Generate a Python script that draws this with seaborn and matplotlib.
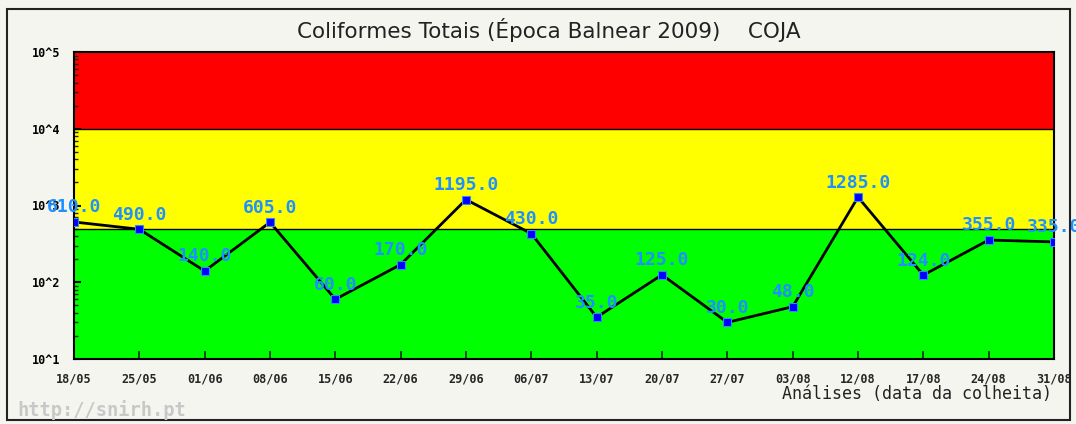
import matplotlib
matplotlib.use("Agg")
import matplotlib.pyplot as plt
import seaborn as sns
import numpy as np
import pandas as pd
from matplotlib.patches import Rectangle
from matplotlib.ticker import LogLocator, FixedLocator, NullFormatter

dates = ["18/05", "25/05", "01/06", "08/06", "15/06", "22/06", "29/06", "06/07",
         "13/07", "20/07", "27/07", "03/08", "12/08", "17/08", "24/08", "31/08"]
values = [610, 490, 140, 605, 60, 170, 1195, 430, 35, 125, 30, 48, 1285, 124, 355, 335]
band_edges = [10, 500, 10000, 100000]
band_colors = ["#00ff00", "#ffff00", "#ff0000"]
ytick_vals = [10, 100, 1000, 10000, 100000]
ytick_labels = ["10^1", "10^2", "10^3", "10^4", "10^5"]

sns.set_theme(style="white")
plt.rcParams['font.family'] = ['DejaVu Sans']

bg = "#f5f5f0"
fig = plt.figure(figsize=(10.76, 4.24), dpi=100, facecolor=bg)
ax = fig.add_axes([74/1076, 1-359/424, (1054-74)/1076, (359-52)/424])
ax.set_facecolor(bg)

# outer frame
fig.patches.append(Rectangle((7/1076, 1-420/424), (1070-7)/1076, (420-9)/424,
                             transform=fig.transFigure, fill=False, edgecolor="#222222",
                             linewidth=1.5, zorder=0))

for lo, hi, c in zip(band_edges[:-1], band_edges[1:], band_colors):
    ax.axhspan(lo, hi, color=c, zorder=0, linewidth=0)
for e in band_edges[1:-1]:
    ax.axhline(e, color="black", linewidth=1.0, zorder=1)

df = pd.DataFrame({"x": np.arange(len(values)), "y": values})
sns.lineplot(data=df, x="x", y="y", ax=ax, color="black", linewidth=2.0,
             marker="s", markersize=5.5, markerfacecolor="#0000ff",
             markeredgecolor="#3388ff", markeredgewidth=0.8, zorder=3)

ax.set_yscale("log")
ax.set_ylim(10, 100000)
ax.set_xlim(0, len(values) - 1)

mono = "DejaVu Sans Mono"
for i, v in enumerate(values):
    ax.annotate(f"{v:.1f}", (i, v), xytext=(0, 4), textcoords="offset points",
                ha="center", va="bottom", color="#1e90ff", fontsize=13,
                fontweight="bold", family=mono, zorder=4, annotation_clip=False)

ax.yaxis.set_major_locator(FixedLocator(ytick_vals))
ax.set_yticklabels(ytick_labels, family=mono, fontsize=8.5, fontweight="bold")
ax.yaxis.set_minor_locator(LogLocator(base=10, subs=np.arange(2, 10)))
ax.yaxis.set_minor_formatter(NullFormatter())
ax.tick_params(axis="y", which="major", direction="in", length=5, width=1.5,
               left=True, colors="black", pad=10)
ax.tick_params(axis="y", which="minor", direction="in", length=3, width=1, left=True)

ax.set_xticks(np.arange(len(dates)))
ax.set_xticklabels(dates, family=mono, fontsize=8.5, fontweight="bold")
ax.tick_params(axis="x", direction="in", length=6, width=1.2, bottom=True, pad=10)

for s in ax.spines.values():
    s.set_color("black")
    s.set_linewidth(1.5)
    s.set_visible(True)

ax.set_xlabel("")
ax.set_ylabel("")
fig.text(1052/1076, 1-394/424, "Análises (data da colheita)", ha="right", va="center",
         family=mono, fontsize=12, color="#222222")
fig.text(17/1076, 1-410/424, "http://snirh.pt", ha="left", va="center",
         family=mono, fontsize=13.5, fontweight="bold", color="#c8c8c8")
fig.text(549/1076, 1-30/424, "Coliformes Totais (Época Balnear 2009)    COJA",
         ha="center", va="center", fontsize=15.5, color="#222222")

fig.savefig("out.png", dpi=100, facecolor=bg)
